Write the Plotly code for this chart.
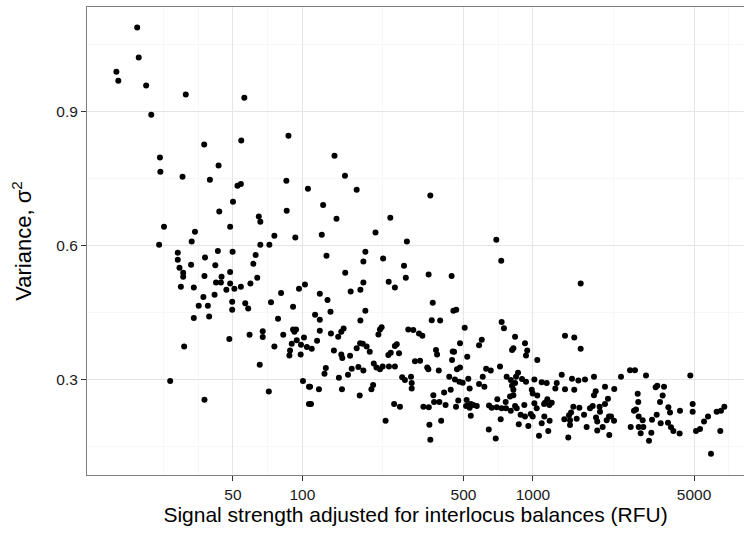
import plotly.graph_objects as go

# Signal strength (RFU)
rfu = [
    19.2, 19.5, 15.6, 15.9, 21.0, 31.2, 56.0, 22.1, 87.0, 37.5, 54.3, 24.1, 43.3, 24.2, 30.2, 39.7,
    85.2, 52.3, 54.1, 105.7, 50.0, 43.6, 85.5, 64.7, 65.7, 25.1, 48.6, 34.2, 75.6, 93.2, 33.1, 23.9,
    65.7, 71.9, 28.8, 28.8, 29.3, 30.4, 30.4, 29.7, 32.9, 37.8, 43.0, 49.8, 41.9, 37.6, 44.6, 42.2,
    44.3, 48.6, 48.6, 50.7, 46.8, 54.1, 59.5, 63.7, 61.3, 62.7, 33.8, 41.6, 37.2, 49.6, 49.6, 56.5,
    58.2, 35.5, 38.9, 33.8, 39.4, 73.1, 80.8, 91.1, 96.7, 102.6, 78.4, 67.3, 67.3, 59.0, 48.2, 82.6,
    91.1, 93.9, 92.3, 101.6, 89.9, 94.5, 98.6, 104.6, 75.6, 88.4, 87.8, 98.3, 30.7, 65.3, 26.7, 100.6,
    106.8, 71.5, 37.6, 106.8,
    137.8, 153, 172, 359, 123, 140.6, 240.7, 121.4, 207.6, 284, 694, 729, 127.2, 187.6, 183.9, 224,
    276, 281, 353, 444, 153.4, 183.9, 236.8, 252, 119, 162, 178.5, 128.5, 132.4, 113.5, 119, 187.6,
    178.5, 151, 147.5, 143, 119, 133, 115.8, 109.8, 137, 147.5, 149, 161, 178, 182.8, 172, 190,
    196, 213.8, 217, 220.7, 256.6, 252, 262.6, 236, 241.7, 288, 302.7, 320.5, 331.5, 364, 367.7, 396,
    452, 465, 506, 308, 324, 380, 384, 449, 455, 483, 446, 519, 600, 584, 732, 749,
    837, 823, 812, 124.7, 126.4, 144, 163.7, 157.7, 175, 183.9, 204, 209.5, 217, 222.9, 237.4, 252,
    348, 352, 390.6, 468.5, 483, 433.7, 459, 479.8, 496, 524.6, 531.8, 606, 584, 616, 627, 656.6,
    720, 769.7, 801.6, 812, 823, 845, 862, 108, 118, 148.5, 177.3, 199.3, 202.7, 271, 278.5, 296,
    298, 298, 109, 250, 265, 335, 353.5, 370, 372.7, 393, 418, 412, 440, 464, 474.5, 516,
    524.6, 539, 513, 531.8, 552, 571, 537.8, 645.5, 663, 697, 701, 732, 762, 764.6, 801.6, 837,
    851, 725, 643.7, 689.8, 229.6, 355.7, 359, 400, 868.5,
    1612, 1378, 1512, 1612, 924, 945, 933.5, 1045, 837, 823, 796, 897, 933.5, 1015, 989, 998,
    1045, 1092, 1148, 1334, 1269, 1251, 1378, 1478, 1575, 1683, 1841, 1512, 2055, 2254, 1873, 1841,
    2411, 2638, 2772, 3096, 4818, 3409, 3464, 3706, 2849, 2865, 3656, 3560, 2117, 2055, 1948, 1817,
    1769, 1591, 1498, 1464, 1434, 1369, 1449, 1449, 1549, 1667, 1711, 1424, 1129, 1155, 1207, 1179,
    1118, 1015, 1039, 918, 885, 924, 979, 998, 955.5, 1063, 1092, 1121, 1182, 1166, 1879, 1955,
    1902, 1902, 2008, 2090, 2139, 2182, 2249, 2145, 2657, 2746, 2801, 2878, 2878, 2994, 2935, 3014,
    3189, 3264, 3287, 3444, 3585, 3870, 3934, 3855, 3973, 4068, 4331, 4348, 4934, 4934, 5102, 5309,
    5527, 5750, 6271, 6548, 6768, 6502, 5925,
]

# Variance (sigma^2)
variance = [
    1.089, 1.022, 0.990, 0.970, 0.959, 0.939, 0.932, 0.894, 0.847, 0.827, 0.836, 0.798, 0.780, 0.766, 0.755, 0.748,
    0.746, 0.735, 0.739, 0.728, 0.699, 0.677, 0.679, 0.666, 0.654, 0.643, 0.643, 0.632, 0.623, 0.619, 0.610, 0.603,
    0.603, 0.603, 0.585, 0.569, 0.551, 0.540, 0.531, 0.509, 0.558, 0.574, 0.589, 0.587, 0.557, 0.533, 0.531, 0.518,
    0.518, 0.542, 0.516, 0.504, 0.502, 0.509, 0.516, 0.529, 0.560, 0.580, 0.507, 0.491, 0.486, 0.475, 0.457, 0.472,
    0.460, 0.466, 0.466, 0.439, 0.442, 0.474, 0.495, 0.464, 0.504, 0.514, 0.437, 0.409, 0.396, 0.401, 0.392, 0.401,
    0.413, 0.413, 0.408, 0.395, 0.381, 0.389, 0.379, 0.374, 0.375, 0.366, 0.355, 0.357, 0.375, 0.334, 0.298, 0.298,
    0.285, 0.274, 0.256, 0.246,
    0.802, 0.757, 0.726, 0.713, 0.692, 0.661, 0.663, 0.625, 0.630, 0.610, 0.614, 0.567, 0.578, 0.587, 0.565, 0.572,
    0.556, 0.529, 0.536, 0.533, 0.540, 0.518, 0.520, 0.507, 0.493, 0.498, 0.502, 0.479, 0.453, 0.446, 0.435, 0.455,
    0.433, 0.415, 0.408, 0.397, 0.410, 0.404, 0.388, 0.370, 0.366, 0.357, 0.349, 0.354, 0.382, 0.381, 0.371, 0.375,
    0.363, 0.402, 0.413, 0.418, 0.380, 0.376, 0.360, 0.356, 0.361, 0.413, 0.412, 0.404, 0.399, 0.434, 0.473, 0.433,
    0.455, 0.457, 0.417, 0.342, 0.343, 0.367, 0.357, 0.364, 0.363, 0.382, 0.345, 0.352, 0.390, 0.378, 0.430, 0.416,
    0.397, 0.371, 0.367, 0.314, 0.327, 0.305, 0.325, 0.312, 0.329, 0.321, 0.337, 0.328, 0.324, 0.330, 0.330, 0.330,
    0.328, 0.324, 0.321, 0.324, 0.328, 0.307, 0.301, 0.296, 0.294, 0.303, 0.281, 0.307, 0.291, 0.285, 0.325, 0.321,
    0.330, 0.307, 0.300, 0.287, 0.278, 0.307, 0.316, 0.285, 0.279, 0.279, 0.265, 0.279, 0.289, 0.306, 0.300, 0.307,
    0.293, 0.281, 0.246, 0.246, 0.240, 0.240, 0.239, 0.266, 0.251, 0.251, 0.244, 0.272, 0.278, 0.240, 0.254, 0.255,
    0.243, 0.246, 0.242, 0.238, 0.244, 0.242, 0.220, 0.243, 0.238, 0.239, 0.257, 0.237, 0.251, 0.237, 0.231, 0.242,
    0.237, 0.212, 0.189, 0.169, 0.209, 0.200, 0.166, 0.209, 0.201,
    0.516, 0.399, 0.395, 0.370, 0.382, 0.366, 0.355, 0.345, 0.293, 0.266, 0.263, 0.302, 0.296, 0.301, 0.278, 0.270,
    0.265, 0.295, 0.293, 0.312, 0.293, 0.281, 0.279, 0.303, 0.299, 0.301, 0.307, 0.278, 0.285, 0.280, 0.275, 0.266,
    0.307, 0.322, 0.322, 0.310, 0.310, 0.284, 0.287, 0.285, 0.269, 0.251, 0.265, 0.251, 0.258, 0.246, 0.240, 0.242,
    0.237, 0.238, 0.240, 0.227, 0.221, 0.212, 0.210, 0.199, 0.213, 0.222, 0.195, 0.171, 0.249, 0.257, 0.249, 0.244,
    0.246, 0.248, 0.237, 0.244, 0.222, 0.218, 0.224, 0.218, 0.197, 0.175, 0.203, 0.218, 0.209, 0.186, 0.216, 0.229,
    0.207, 0.187, 0.195, 0.210, 0.218, 0.218, 0.209, 0.177, 0.195, 0.231, 0.234, 0.218, 0.195, 0.210, 0.181, 0.195,
    0.164, 0.182, 0.211, 0.222, 0.203, 0.239, 0.227, 0.204, 0.194, 0.186, 0.180, 0.231, 0.246, 0.229, 0.186, 0.190,
    0.207, 0.218, 0.229, 0.231, 0.240, 0.186, 0.135,
]

x_ticks = [50, 100, 500, 1000, 5000]
x_tick_labels = ["50", "100", "500", "1000", "5000"]
x_minor = [25, 35.36, 70.71, 223.6, 707.1, 2236, 7071]
y_ticks = [0.3, 0.6, 0.9]
y_tick_labels = ["0.3", "0.6", "0.9"]
y_minor = [0.15, 0.45, 0.75, 1.05]

FONT = "Liberation Sans, Arial, Helvetica, sans-serif"

fig = go.Figure(
    go.Scatter(
        x=rfu, y=variance, mode="markers",
        marker=dict(color="black", size=6, line=dict(width=0)),
        hoverinfo="skip", showlegend=False,
    )
)

fig.update_layout(
    width=744, height=536,
    margin=dict(l=87, r=0, t=7, b=61),
    paper_bgcolor="white", plot_bgcolor="white",
    font=dict(family=FONT, color="#1a1a1a"),
    xaxis=dict(
        type="log", range=[1.0656, 3.9159],
        tickmode="array", tickvals=x_ticks, ticktext=x_tick_labels,
        showgrid=True, gridcolor="#e5e5e5", gridwidth=1,
        minor=dict(tickmode="array", tickvals=x_minor, showgrid=True,
                   gridcolor="#f7f7f7", gridwidth=1, ticks=""),
        ticks="outside", ticklen=5, tickwidth=1, tickcolor="#333333",
        tickfont=dict(size=15.5, color="#1a1a1a"),
        showline=True, linecolor="#7f7f7f", linewidth=1, mirror=True,
        zeroline=False,
        title=dict(text="Signal strength adjusted for interlocus balances (RFU)",
                   font=dict(size=21, color="#000000"), standoff=5),
    ),
    yaxis=dict(
        range=[0.0873, 1.135],
        tickmode="array", tickvals=y_ticks, ticktext=y_tick_labels,
        showgrid=True, gridcolor="#e5e5e5", gridwidth=1,
        minor=dict(tickmode="array", tickvals=y_minor, showgrid=True,
                   gridcolor="#f7f7f7", gridwidth=1, ticks=""),
        ticks="outside", ticklen=5, tickwidth=1, tickcolor="#333333",
        tickfont=dict(size=15.5, color="#1a1a1a"),
        showline=True, linecolor="#7f7f7f", linewidth=1, mirror=False,
        zeroline=False,
        title=dict(text="Variance, σ<sup>2</sup>",
                   font=dict(size=22, color="#000000"), standoff=18),
    ),
)

fig.write_html("out.html")
